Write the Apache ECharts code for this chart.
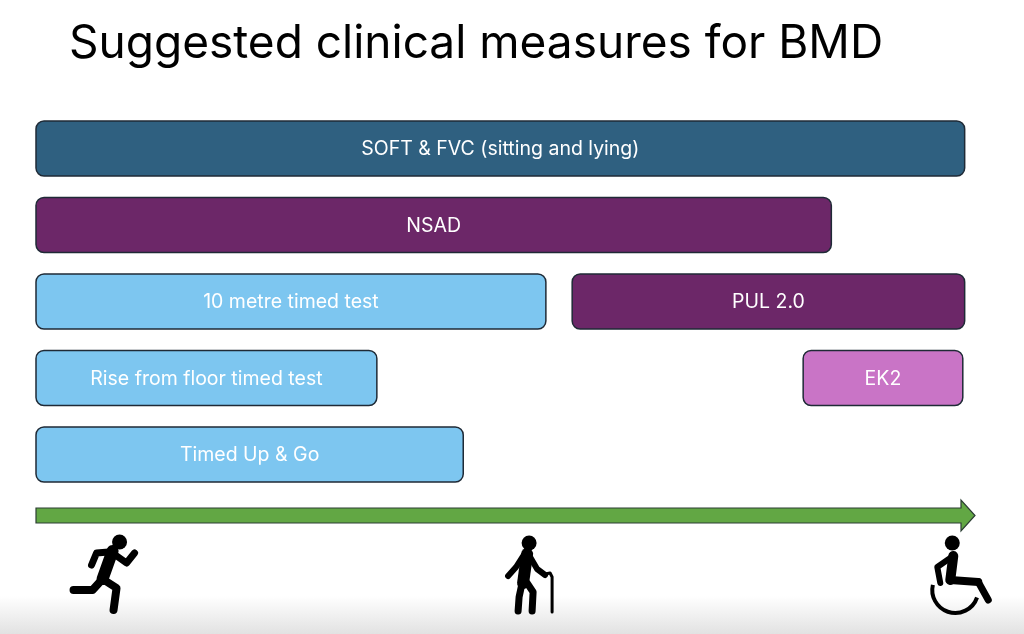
<!DOCTYPE html>
<html>
<head>
<meta charset="utf-8">
<title>Suggested clinical measures for BMD</title>
<script src="https://cdn.jsdelivr.net/npm/echarts@6/dist/echarts.min.js"></script>
<style>
html,body{margin:0;padding:0;background:#fff;}
#main{width:1024px;height:634px;}
</style>
</head>
<body>
<div id="main"></div>
<script>
// rows of the chart, top to bottom
var rows = ['r1', 'r2', 'r3', 'r4', 'r5'];
// each measure: label, row, where it starts / ends along the timeline (0..100)
var measures = ['SOFT & FVC (sitting and lying)', 'NSAD', '10 metre timed test', 'PUL 2.0', 'Rise from floor timed test', 'EK2', 'Timed Up & Go'];
var measureRow = [0, 1, 2, 2, 3, 3, 4];
var measureStart = [0, 0, 0, 57.1, 0, 81.7, 0];
var measureEnd = [98.9, 84.7, 54.3, 98.9, 36.3, 98.7, 45.5];
var measureGroup = ['resp', 'upper', 'walk', 'upper', 'walk', 'ek', 'walk'];
// stages along the arrow
var stageNames = ['run', 'walk', 'wheel'];
var stagePos = [7.3, 52.3, 97.9];
var timeline = [0, 100];

var groupColor = {resp: '#2F6080', upper: '#6C2768', walk: '#7DC6F0', ek: '#C974C6'};

var myChart = echarts.init(document.getElementById('main'));

function renderBar(params, api) {
	var i = params.dataIndex;
	var row = api.value(0);
	var p0 = api.coord([api.value(1), row]);
	var p1 = api.coord([api.value(2), row]);
	var h = api.size([0, 1])[1] * 0.72;
	return {
		type: 'rect',
		shape: {x: p0[0], y: p0[1] - h / 2, width: p1[0] - p0[0], height: h, r: 8},
		style: {fill: groupColor[measureGroup[i]], stroke: '#1F2A36', lineWidth: 1.5},
		textContent: {
			style: {text: measures[i], fill: '#fff', fontSize: 19.5, fontFamily: 'Inter'}
		},
		textConfig: {position: 'inside', offset: [0, 1]}
	};
}

function renderArrow(params, api) {
	var a = api.coord([api.value(0), 0]);
	var b = api.coord([api.value(1), 0]);
	var cy = params.coordSys.y + 15.5;
	var x0 = a[0], x1 = b[0];
	return {
		type: 'polygon',
		shape: {points: [
			[x0, cy - 7.5], [x1 - 14, cy - 7.5], [x1 - 14, cy - 15.5], [x1, cy],
			[x1 - 14, cy + 15.5], [x1 - 14, cy + 7.5], [x0, cy + 7.5]
		]},
		style: {fill: '#62A744', stroke: '#2C3E34', lineWidth: 1.2}
	};
}

// stick figure parts, offsets from the icon centre
var figures = {
	run: {
		head: [15, -33],
		lines: [
			[[[8, -24], [-2, 4]], 12],
			[[[4, -23], [-8, -22], [-13, -10]], 7],
			[[[8, -22], [22, -12], [30, -22]], 7],
			[[[-2, 4], [-12, 15], [-31, 15]], 8],
			[[[-2, 4], [12, 13], [9, 35]], 8]
		]
	},
	walk: {
		head: [2, -32],
		lines: [
			[[[0, -21], [-4, 8]], 12],
			[[[-4, -19], [-11, -8], [-19, 1]], 6],
			[[[3, -18], [10, -6], [18, 0]], 6],
			[[[18, -1], [23, -2], [25, 2], [25, 37]], 3],
			[[[-5, 8], [-8, 22], [-9, 36]], 7],
			[[[0, 8], [6, 17], [5, 36]], 7]
		]
	},
	wheel: {
		head: [-3, -32],
		lines: [
			[[[-2, -19], [-5, 5]], 10],
			[[[-5, -17], [-18, -8], [-15, 8]], 6],
			[[[-5, 5], [23, 7]], 8],
			[[[23, 7], [33, 25]], 7]
		],
		wheel: [0, 15, 23]
	}
};

function renderIcon(params, api) {
	var f = figures[stageNames[params.dataIndex]];
	var cx = api.coord([api.value(0), 0])[0];
	var cy = params.coordSys.y + 75;
	var children = [{
		type: 'circle',
		shape: {cx: cx + f.head[0], cy: cy + f.head[1], r: 7.5},
		style: {fill: '#000'}
	}];
	f.lines.forEach(function (l) {
		children.push({
			type: 'polyline',
			shape: {points: l[0].map(function (p) { return [cx + p[0], cy + p[1]]; })},
			style: {stroke: '#000', lineWidth: l[1], lineCap: 'round', lineJoin: 'round', fill: null}
		});
	});
	if (f.wheel) {
		children.push({
			type: 'arc',
			shape: {cx: cx + f.wheel[0], cy: cy + f.wheel[1], r: f.wheel[2],
				startAngle: 19 * Math.PI / 180, endAngle: 193 * Math.PI / 180, clockwise: true},
			style: {stroke: '#000', lineWidth: 4, fill: null}
		});
	}
	return {type: 'group', children: children};
}

var option = {
	backgroundColor: '#fff',
	animation: false,
	title: {
		text: 'Suggested clinical measures for BMD',
		left: 64,
		top: 16,
		textStyle: {fontSize: 46, fontWeight: 'normal', color: '#000', fontFamily: 'Inter'}
	},
	graphic: [{
		type: 'rect',
		left: 0,
		bottom: 0,
		z: -10,
		shape: {width: 1024, height: 38},
		style: {fill: new echarts.graphic.LinearGradient(0, 0, 0, 1, [
			{offset: 0, color: '#ffffff'},
			{offset: 1, color: '#e2e2e2'}
		])}
	}],
	grid: [
		{left: 36, right: 49, top: 110.25, height: 382.5},
		{left: 36, right: 49, top: 500, height: 134}
	],
	xAxis: [
		{type: 'value', min: timeline[0], max: timeline[1], show: false, gridIndex: 0},
		{type: 'value', min: timeline[0], max: timeline[1], show: false, gridIndex: 1}
	],
	yAxis: [
		{type: 'category', data: rows, inverse: true, show: false, gridIndex: 0},
		{type: 'value', min: 0, max: 1, show: false, gridIndex: 1}
	],
	series: [
		{
			type: 'custom',
			renderItem: renderBar,
			xAxisIndex: 0,
			yAxisIndex: 0,
			encode: {x: [1, 2], y: 0},
			data: measures.map(function (m, i) { return [measureRow[i], measureStart[i], measureEnd[i]]; })
		},
		{
			type: 'custom',
			renderItem: renderArrow,
			xAxisIndex: 1,
			yAxisIndex: 1,
			encode: {x: [0, 1]},
			data: [[timeline[0], timeline[1]]]
		},
		{
			type: 'custom',
			renderItem: renderIcon,
			xAxisIndex: 1,
			yAxisIndex: 1,
			encode: {x: 0},
			data: stagePos.map(function (v) { return [v]; })
		}
	]
};
myChart.setOption(option);
</script>
</body>
</html>
